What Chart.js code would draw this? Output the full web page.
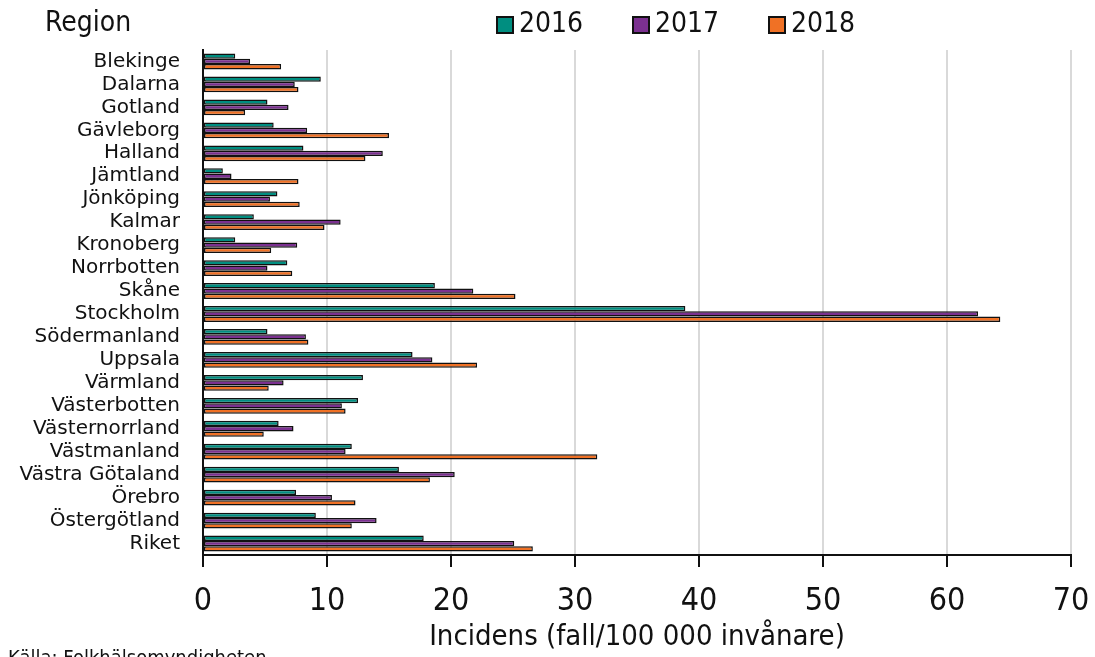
<!DOCTYPE html>
<html>
<head>
<meta charset="utf-8">
<script src="https://cdn.jsdelivr.net/npm/chart.js@4/dist/chart.umd.min.js"></script>
<style>
    html, body { margin: 0; padding: 0; background: #fff; }
    #wrap { width: 1095px; height: 657px; position: relative; }
</style>
</head>
<body>
<div id="wrap"><canvas id="myChart" width="1095" height="657"></canvas></div>
<script>
// regioner (y-axel)
var regions = ['Blekinge', 'Dalarna', 'Gotland', 'Gävleborg', 'Halland', 'Jämtland',
    'Jönköping', 'Kalmar', 'Kronoberg', 'Norrbotten', 'Skåne', 'Stockholm',
    'Södermanland', 'Uppsala', 'Värmland', 'Västerbotten', 'Västernorrland',
    'Västmanland', 'Västra Götaland', 'Örebro', 'Östergötland', 'Riket'];

// incidens per år
var val2016 = [2.6, 9.5, 5.2, 5.7, 8.1, 1.6, 6.0, 4.1, 2.6, 6.8, 18.7, 38.9,
    5.2, 16.9, 12.9, 12.5, 6.1, 12.0, 15.8, 7.5, 9.1, 17.8];
var val2017 = [3.8, 7.4, 6.9, 8.4, 14.5, 2.3, 5.4, 11.1, 7.6, 5.2, 21.8, 62.5,
    8.3, 18.5, 6.5, 11.2, 7.3, 11.5, 20.3, 10.4, 14.0, 25.1];
var val2018 = [6.3, 7.7, 3.4, 15.0, 13.1, 7.7, 7.8, 9.8, 5.5, 7.2, 25.2, 64.3,
    8.5, 22.1, 5.3, 11.5, 4.9, 31.8, 18.3, 12.3, 12.0, 26.6];

var years = ['2016', '2017', '2018'];
var xTicks = [0, 10, 20, 30, 40, 50, 60, 70];

var FONT = '"DejaVu Sans Condensed", "DejaVu Sans", sans-serif';
var colors = ['#008E80', '#7B3090', '#F07125'];

// legend, "Region" och källa ritas här
var extraText = {
    id: 'extraText',
    afterDraw: function(chart) {
        var ctx = chart.ctx;
        ctx.save();
        ctx.fillStyle = '#111';
        ctx.textBaseline = 'middle';
        ctx.textAlign = 'left';
        ctx.font = '28px ' + FONT;
        ctx.fillText('Region', 45, 24);

        var boxX = [497, 633, 769];
        chart.data.datasets.forEach(function(ds, i) {
            ctx.fillStyle = ds.backgroundColor;
            ctx.fillRect(boxX[i], 17, 16, 16);
            ctx.lineWidth = 2;
            ctx.strokeStyle = '#111';
            ctx.strokeRect(boxX[i], 17, 16, 16);
            ctx.fillStyle = '#111';
            ctx.fillText(ds.label, boxX[i] + 22, 25);
        });

        ctx.font = '20px ' + FONT;
        ctx.textBaseline = 'alphabetic';
        ctx.fillText('Källa: Folkhälsomyndigheten', 8, 664);
        ctx.restore();
    }
};

var datasets = [val2016, val2017, val2018].map(function(v, i) {
    return {
        label: years[i],
        data: v,
        backgroundColor: colors[i],
        borderColor: '#111',
        borderWidth: 1.5,
        borderSkipped: false,
        barPercentage: 1.0,
        categoryPercentage: 0.69
    };
});

const ctx = document.getElementById('myChart').getContext('2d');
var myChart = new Chart(ctx, {
    type: 'bar',
    data: { labels: regions, datasets: datasets },
    plugins: [extraText],
    options: {
        indexAxis: 'y',
        responsive: false,
        animation: false,
        layout: { padding: { top: 50, right: 24, left: 0, bottom: 0 } },
        plugins: {
            legend: { display: false },
            tooltip: { enabled: false }
        },
        scales: {
            x: {
                min: 0,
                max: 70,
                afterBuildTicks: function(scale) {
                    scale.ticks = xTicks.map(function(t) { return { value: t }; });
                },
                afterFit: function(scale) {
                    scale.height = 102;
                    scale.paddingLeft = 0;
                    scale.paddingRight = 0;
                },
                grid: {
                    color: '#d9d9d9',
                    lineWidth: 2,
                    tickColor: '#111',
                    tickLength: 12,
                    tickWidth: 2
                },
                border: { color: '#111', width: 2 },
                ticks: {
                    color: '#111',
                    padding: 15,
                    font: { family: FONT, size: 32 }
                },
                title: {
                    display: true,
                    text: 'Incidens (fall/100 000 invånare)',
                    color: '#111',
                    font: { family: FONT, size: 29 },
                    padding: { top: 0, bottom: 2 }
                }
            },
            y: {
                afterFit: function(scale) { scale.width = 203; },
                grid: { display: false, drawTicks: false },
                border: { color: '#111', width: 2 },
                ticks: {
                    color: '#111',
                    padding: 23,
                    autoSkip: false,
                    font: { family: '"DejaVu Sans", sans-serif', size: 20 }
                }
            }
        }
    }
});
</script>
</body>
</html>
